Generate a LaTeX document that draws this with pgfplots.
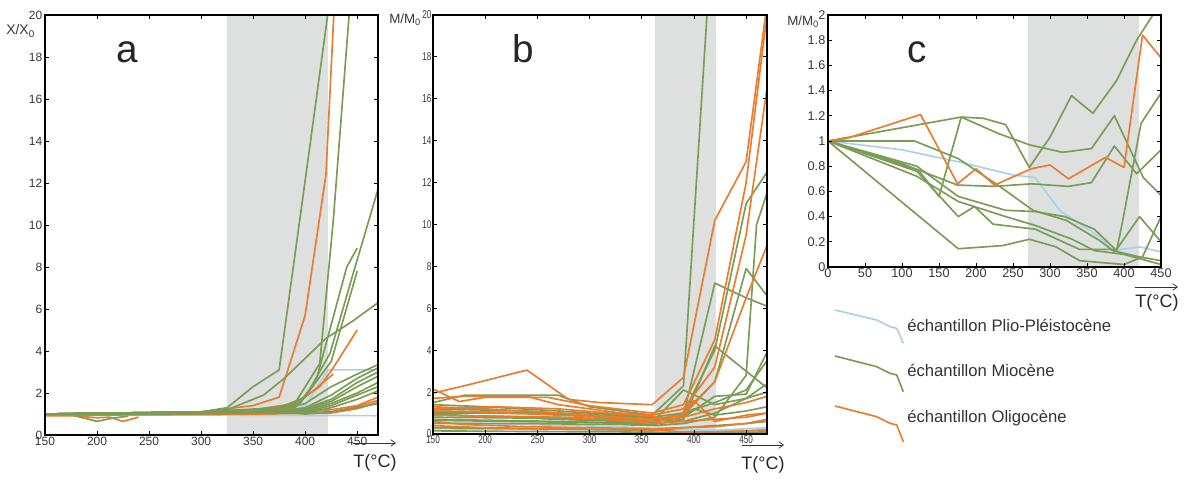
\documentclass[border=0pt]{standalone}
\usepackage{fontspec}
\setmainfont{Liberation Sans}
\usepackage{pgfplots}
\pgfplotsset{compat=1.18}
\usetikzlibrary{arrows.meta}
\definecolor{gr}{RGB}{122,157,86}
\definecolor{orn}{RGB}{234,124,44}
\definecolor{blu}{RGB}{172,208,232}
\definecolor{shade}{RGB}{222,223,223}
\definecolor{tk}{RGB}{55,55,55}
\pgfplotsset{
  panel/.style={scale only axis, axis on top, clip=true, tick align=inside,
    major tick length=3pt, no markers,
    every tick/.style={black, line width=0.6pt},
    axis line style={line width=0.8pt},
    /pgf/number format/assume math mode=true,
    every axis plot/.append style={line width=1.25pt, line join=round},
  },
  G/.style={gr}, O/.style={orn}, B/.style={blu},
}
\begin{document}
\begin{tikzpicture}
\useasboundingbox (0pt,0pt) rectangle (888pt,359.25pt);

% ---------------- panel a ----------------
\begin{axis}[panel, at={(33.75pt,33pt)}, anchor=south west,
  width=249.75pt, height=315pt,
  xmin=150, xmax=470, ymin=0, ymax=20,
  xtick={150,200,...,450}, ytick={0,2,...,20},
  tick label style={font=\fontsize{9}{9}\selectfont, text=tk},
  xticklabel style={yshift=2pt}, yticklabel style={xshift=1.5pt}]
\addplot[fill=shade, draw=none] coordinates {(325,0) (325,20) (422,20) (422,0)} -- cycle;
% blue
\addplot[B] coordinates {(150,0.95) (300,0.95) (470,0.92)};
\addplot[B] coordinates {(150,1.0) (300,1.05) (375,1.2) (400,1.4) (422,3.1) (470,3.1)};
% orange
\addplot[O] coordinates {(150,1.0) (300,1.1) (350,1.4) (375,1.8) (400,5.7) (420,12.4) (428,20.5)};
\addplot[O] coordinates {(150,1.0) (300,1.1) (350,1.2) (390,1.5) (414,2.3) (427,3.2) (450,5.0)};
\addplot[O] coordinates {(150,1.0) (300,1.05) (350,1.15) (390,1.4) (410,2.2) (427,2.9)};
\addplot[O] coordinates {(150,0.95) (300,1.0) (375,1.05) (425,1.2) (450,1.4) (470,1.8)};
\addplot[O] coordinates {(150,0.95) (350,1.0) (425,1.1) (450,1.35) (470,1.65)};
\addplot[O] coordinates {(150,0.95) (350,1.0) (425,1.05) (450,1.25) (470,1.55)};
\addplot[O] coordinates {(150,0.92) (175,0.92) (200,0.82) (212,0.85) (225,0.65) (240,0.85)};
% green
\addplot[G] coordinates {(150,1.0) (250,1.0) (300,1.1) (325,1.3) (350,2.3) (375,3.1) (403,13.2) (423,20.5)};
\addplot[G] coordinates {(150,1.0) (300,1.1) (325,1.2) (360,1.9) (380,2.7) (420,4.6) (445,5.4) (470,6.3)};
\addplot[G] coordinates {(150,1.0) (300,1.1) (350,1.2) (375,1.3) (390,1.5) (414,3.4) (427,10.2) (443,20.5)};
\addplot[G] coordinates {(150,1.0) (300,1.1) (350,1.15) (390,1.3) (410,2.5) (440,8.0) (450,8.9)};
\addplot[G] coordinates {(150,1.0) (300,1.1) (350,1.15) (395,1.5) (425,3.5) (450,7.8)};
\addplot[G] coordinates {(150,1.0) (300,1.1) (375,1.3) (400,1.8) (424,3.9) (445,7.5) (470,11.7)};
\addplot[G] coordinates {(150,1.0) (300,1.08) (375,1.2) (400,1.5) (425,2.3) (450,2.9) (470,3.35)};
\addplot[G] coordinates {(150,1.0) (300,1.07) (375,1.15) (400,1.3) (425,1.9) (450,2.7) (470,3.2)};
\addplot[G] coordinates {(150,1.0) (300,1.06) (375,1.12) (400,1.25) (425,1.7) (450,2.5) (470,3.0)};
\addplot[G] coordinates {(150,1.0) (300,1.05) (375,1.1) (400,1.2) (425,1.6) (450,2.3) (470,2.8)};
\addplot[G] coordinates {(150,1.0) (300,1.05) (375,1.08) (400,1.15) (425,1.5) (450,2.0) (470,2.5)};
\addplot[G] coordinates {(150,1.0) (300,1.04) (375,1.06) (400,1.1) (425,1.4) (450,1.9) (470,2.3)};
\addplot[G] coordinates {(150,1.0) (300,1.03) (375,1.05) (400,1.05) (425,1.3) (450,1.7) (470,2.1)};
\addplot[G] coordinates {(150,1.0) (300,1.02) (375,1.1) (400,1.0) (425,1.1) (450,1.3) (470,1.5)};
\addplot[G] coordinates {(180,0.9) (200,0.65) (215,0.8) (230,0.9)};
\end{axis}

% ---------------- panel b ----------------
\begin{axis}[panel, at={(324.75pt,33.75pt)}, anchor=south west,
  width=250.5pt, height=314.25pt,
  xmin=150, xmax=470, ymin=0, ymax=20,
  xtick={150,200,...,450}, ytick={0,2,...,20},
  tick label style={font=\fontsize{8.5}{8.5}\selectfont, text=tk, xscale=0.72},
  xticklabel style={yshift=2pt}, yticklabel style={xshift=2pt}]
\addplot[fill=shade, draw=none] coordinates {(363,0) (363,20) (421,20) (421,0)} -- cycle;
% blue
\addplot[B] coordinates {(150,0.55) (240,0.45) (330,0.35) (390,0.2) (450,0.15) (470,0.2)};
\addplot[B] coordinates {(150,0.25) (300,0.2) (390,0.1) (470,0.3)};
% green
\addplot[G] coordinates {(150,1.5) (180,1.85) (270,1.85) (300,1.3) (360,0.9) (390,2.3) (415,22)};
\addplot[G] coordinates {(150,1.4) (200,1.3) (270,1.1) (330,0.9) (360,0.8) (390,1.0) (420,4.0) (450,11.0) (470,12.5)};
\addplot[G] coordinates {(150,1.0) (200,1.0) (270,0.95) (330,0.8) (360,0.7) (390,0.9) (420,7.2) (450,6.5) (470,6.1)};
\addplot[G] coordinates {(150,0.9) (210,0.85) (270,0.8) (330,0.7) (360,0.6) (390,1.0) (420,2.5) (450,7.9) (470,6.6)};
\addplot[G] coordinates {(150,0.8) (270,0.75) (360,0.6) (390,0.8) (420,1.8) (450,1.9) (470,3.9)};
\addplot[G] coordinates {(150,0.7) (270,0.6) (360,0.5) (390,1.0) (420,1.5) (450,2.1) (470,3.5)};
\addplot[G] coordinates {(150,1.2) (240,1.1) (300,0.9) (360,0.7) (390,0.6) (420,1.0) (450,1.7) (470,2.4)};
\addplot[G] coordinates {(150,0.5) (240,0.5) (330,0.45) (360,0.4) (390,0.5) (420,0.8) (450,2.8) (460,10) (470,11.5)};
\addplot[G] coordinates {(150,0.3) (240,0.25) (330,0.2) (360,0.15) (390,0.3) (420,0.4) (450,0.5) (470,0.6)};
\addplot[G] coordinates {(150,0.15) (240,0.12) (330,0.1) (390,0.05) (420,0.05) (470,0.1)};
\addplot[G] coordinates {(150,1.1) (200,1.05) (270,1.0) (330,0.85) (360,0.8) (380,0.6) (400,1.2) (420,0.9) (450,1.1) (470,1.3)};
\addplot[G] coordinates {(150,0.95) (270,0.7) (360,0.55) (390,2.1) (420,1.4) (450,1.7) (470,2.0)};
\addplot[G] coordinates {(150,0.65) (300,0.55) (360,0.45) (390,0.7) (420,4.2) (450,3.0) (470,2.2)};
% orange
\addplot[O] coordinates {(150,1.95) (180,2.3) (240,3.05) (280,1.65) (310,1.5) (360,1.4) (390,2.7) (420,10.2) (450,13.0) (470,20.5)};
\addplot[O] coordinates {(150,2.15) (175,1.55) (200,1.75) (260,1.75) (300,1.35) (360,1.0) (390,1.4) (420,4.5) (450,12.0) (470,20.0)};
\addplot[O] coordinates {(150,1.7) (180,1.8) (240,1.8) (270,1.4) (330,1.0) (360,0.9) (390,1.2) (420,3.2) (450,9.5) (470,16.5)};
\addplot[O] coordinates {(150,1.3) (200,1.2) (270,1.0) (330,0.8) (360,0.7) (390,0.9) (420,2.5) (450,6.5) (470,9.0)};
\addplot[O] coordinates {(150,1.1) (200,1.05) (270,0.9) (330,0.75) (360,0.6) (390,0.8) (420,1.2) (450,1.5) (470,1.8)};
\addplot[O] coordinates {(150,0.9) (200,0.85) (270,0.8) (330,0.65) (360,0.5) (390,0.6) (420,0.7) (450,0.8) (470,1.0)};
\addplot[O] coordinates {(150,0.6) (180,0.45) (240,0.35) (300,0.3) (360,0.25) (390,0.3) (420,0.35) (450,0.5) (470,0.7)};
\addplot[O] coordinates {(150,0.4) (200,0.3) (270,0.25) (360,0.2) (390,0.1) (420,0.1) (450,0.15) (470,0.2)};
\addplot[O] coordinates {(150,1.2) (210,1.3) (270,1.2) (330,0.95) (360,0.85) (380,0.5) (400,1.6) (420,0.6) (450,0.9) (470,1.0)};
\end{axis}

% ---------------- panel c ----------------
\begin{axis}[panel, at={(621pt,159pt)}, anchor=south west,
  width=249.75pt, height=189pt,
  xmin=0, xmax=450, ymin=0, ymax=2,
  xtick={0,50,...,450}, ytick={0,0.2,0.4,0.6,0.8,1,1.2,1.4,1.6,1.8,2},
  tick label style={font=\fontsize{9.5}{9.5}\selectfont, text=tk},
  xticklabel style={yshift=2pt}, yticklabel style={xshift=1.5pt}]
\addplot[fill=shade, draw=none] coordinates {(270,0) (270,2) (420,2) (420,0)} -- cycle;
\addplot[B] coordinates {(0,1) (100,0.93) (180,0.83) (250,0.73) (280,0.71) (313,0.45) (367,0.24) (385,0.13) (421,0.16) (450,0.12)};
\addplot[G] coordinates {(0,1) (180,1.19) (210,1.18) (240,1.13) (272,0.79) (300,1.03) (329,1.36) (358,1.22) (390,1.48) (417,1.80) (450,2.1)};
\addplot[G] coordinates {(0,1) (122,0.77) (150,0.56) (180,1.19) (230,1.06) (272,0.97) (317,0.91) (356,0.94) (387,1.20) (403,1.0) (426,0.71) (450,0.57)};
\addplot[G] coordinates {(0,1) (117,1.0) (176,0.86) (232,0.64) (277,0.45) (322,0.37) (367,0.21) (385,0.13) (421,0.08) (450,0.05)};
\addplot[G] coordinates {(0,1) (100,0.82) (175,0.65) (225,0.64) (275,0.66) (325,0.64) (356,0.67) (387,0.96) (417,0.74) (450,0.93)};
\addplot[G] coordinates {(0,1) (120,0.80) (176,0.56) (240,0.45) (280,0.44) (320,0.40) (360,0.30) (390,0.13) (398,0.36) (423,1.14) (450,1.38)};
\addplot[G] coordinates {(0,1) (120,0.76) (176,0.40) (198,0.48) (223,0.34) (280,0.30) (340,0.14) (390,0.14) (421,0.40) (450,0.20)};
\addplot[G] coordinates {(0,1) (176,0.145) (236,0.17) (272,0.22) (308,0.16) (340,0.05) (400,0.02) (425,0.08) (450,0.40)};
\addplot[G] coordinates {(0,1) (120,0.72) (176,0.52) (240,0.40) (280,0.33) (330,0.22) (360,0.13) (400,0.1) (425,0.06) (450,0.02)};
\addplot[O] coordinates {(0,1) (25,1.02) (125,1.21) (175,0.66) (200,0.78) (225,0.65) (275,0.78) (300,0.81) (325,0.70) (375,0.87) (400,0.79) (425,1.84) (450,1.66)};
\end{axis}

% ---------------- annotations (pixel coordinates) ----------------
\begin{scope}[x=0.75pt, y=-0.75pt, shift={(0pt,359.25pt)}]
\node[inner sep=0pt, font=\fontsize{29}{29}\selectfont, text=black!85] at (127,52) {a};
\node[inner sep=0pt, font=\fontsize{29}{29}\selectfont, text=black!85] at (523,49) {b};
\node[inner sep=0pt, font=\fontsize{29}{29}\selectfont, text=black!85] at (917,52) {c};
\node[anchor=west, inner sep=0pt, font=\fontsize{10.5}{10.5}\selectfont, text=tk] at (6,31) {X/X\textsubscript{0}};
\node[anchor=west, inner sep=0pt, font=\fontsize{10}{10}\selectfont, text=tk] at (389,20) {M/M\textsubscript{0}};
\node[anchor=west, inner sep=0pt, font=\fontsize{10}{10}\selectfont, text=tk] at (787,22) {M/M\textsubscript{0}};
% temperature arrows
\draw[-{Straight Barb[length=3.5pt,width=5pt]}, line width=0.55pt, black!80] (353,443) -- (396,443);
\node[inner sep=0pt, font=\fontsize{13.5}{13.5}\selectfont, text=black!85] at (375,463) {T(°C)};
\draw[-{Straight Barb[length=3.5pt,width=5pt]}, line width=0.55pt, black!80] (742,445) -- (784,445);
\node[inner sep=0pt, font=\fontsize{13.5}{13.5}\selectfont, text=black!85] at (763,465) {T(°C)};
\draw[-{Straight Barb[length=3.5pt,width=5pt]}, line width=0.55pt, black!80] (1135,287) -- (1178,287);
\node[inner sep=0pt, font=\fontsize{13.5}{13.5}\selectfont, text=black!85] at (1157,303) {T(°C)};
% legend
\draw[blu, line width=1.25pt, line join=round] (835,310) -- (876.7,320) -- (890,326.7) -- (896.7,328.3) -- (903.3,343.3);
\draw[gr, line width=1.25pt, line join=round] (835,356) -- (876.7,366.7) -- (890,373.3) -- (896.7,375) -- (903.3,391.7);
\draw[orn, line width=1.25pt, line join=round] (835,406) -- (876.7,416.7) -- (890,423.3) -- (896.7,425) -- (903.3,441.7);
\node[anchor=west, inner sep=0pt, font=\fontsize{12.5}{12.5}\selectfont, text=black!80] at (907,325) {échantillon Plio-Pléistocène};
\node[anchor=west, inner sep=0pt, font=\fontsize{12.5}{12.5}\selectfont, text=black!80] at (907,370) {échantillon Miocène};
\node[anchor=west, inner sep=0pt, font=\fontsize{12.5}{12.5}\selectfont, text=black!80] at (907,418) {échantillon Oligocène};
\end{scope}
\end{tikzpicture}
\end{document}
